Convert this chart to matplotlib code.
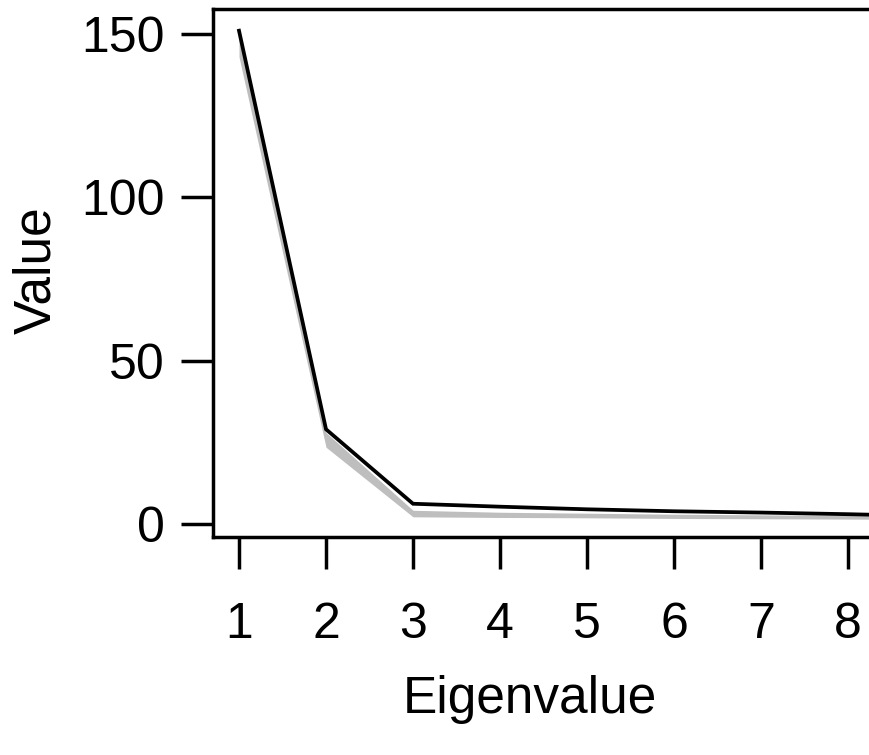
import numpy as np
import matplotlib.pyplot as plt

plt.rcParams['font.family'] = ['Liberation Sans', 'DejaVu Sans']

# eigenvalue index and observed values
eig_idx = [1, 2, 3, 4, 5, 6, 7, 8, 9]
observed = [151, 29, 6.2, 5.3, 4.5, 3.9, 3.5, 3.0, 2.4]
# gray band (e.g. random-data range)
band_lo = [143, 23.5, 2.2, 2.0, 1.9, 1.7, 1.6, 1.5, 1.4]
band_hi = [149, 28, 4.2, 3.6, 3.3, 3.0, 2.8, 2.6, 2.4]

xticks = [1, 2, 3, 4, 5, 6, 7, 8]
yticks = [0, 50, 100, 150]

fig = plt.figure(figsize=(8.69, 7.55), dpi=100)
ax = fig.add_axes([213/869, 218/755, (891.5-213)/869, 528/755])

ax.fill_between(eig_idx, band_lo, band_hi, color='#BEBEBE', lw=0)
ax.plot(eig_idx, observed, color='black', lw=2.7, solid_joinstyle='miter')

ax.set_xlim(0.701, 8.5)
ax.set_ylim(-3.98, 157.65)
ax.set_xticks(xticks)
ax.set_yticks(yticks)

for s in ax.spines.values():
    s.set_linewidth(2.5)
ax.tick_params(axis='both', length=23, width=2.5, labelsize=36)
ax.tick_params(axis='y', pad=12)
ax.tick_params(axis='x', pad=24)

ax.set_xlabel('Eigenvalue', fontsize=37)
ax.set_ylabel('Value', fontsize=37)
ax.xaxis.set_label_coords((530-213)/(891.5-213), -(713-537)/528)
ax.xaxis.label.set_va('baseline')
ax.yaxis.set_label_coords(-(213-37)/(891.5-213), (537-270)/528)
ax.yaxis.label.set_va('center')

fig.savefig('out.png', dpi=100)
